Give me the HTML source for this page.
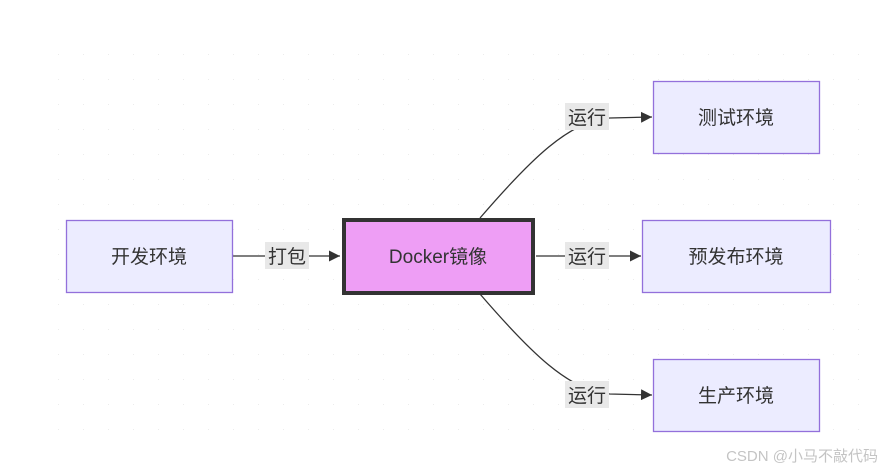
<!DOCTYPE html>
<html><head><meta charset="utf-8"><style>
html,body{margin:0;padding:0;background:#fff;}
svg{display:block;}
text{font-family:"Liberation Sans","Noto Sans CJK SC",sans-serif;}
</style></head><body>
<svg width="884" height="470" viewBox="0 0 884 470" xmlns="http://www.w3.org/2000/svg">
<defs>
<pattern id="dots" x="8" y="4" width="25" height="25" patternUnits="userSpaceOnUse">
<circle cx="0" cy="0" r="1" fill="#e6e6e6"/>
</pattern>
<marker id="ar" viewBox="0 0 10 10" refX="10" refY="5" markerWidth="11" markerHeight="11" markerUnits="userSpaceOnUse" orient="auto">
<path d="M0,0 L10,5 L0,10 z" fill="#333"/>
</marker>
</defs>
<rect x="40" y="50" width="830" height="395" fill="url(#dots)"/>
<!-- edges -->
<path d="M232,256 L340,256" stroke="#333" stroke-width="1.3" fill="none" marker-end="url(#ar)"/>
<path d="M536,256 L641,256" stroke="#333" stroke-width="1.3" fill="none" marker-end="url(#ar)"/>
<path d="M480,218 C530,160 570,120 610,118 L652,117" stroke="#333" stroke-width="1.3" fill="none" marker-end="url(#ar)"/>
<path d="M480,294 C530,352 570,392 610,394 L652,395" stroke="#333" stroke-width="1.3" fill="none" marker-end="url(#ar)"/>
<!-- labels -->
<rect x="265" y="242" width="44" height="27" fill="#e8e8e8"/>
<text x="287" y="263" font-size="19" text-anchor="middle" fill="#333">打包</text>
<rect x="565" y="103" width="44" height="27" fill="#e8e8e8"/>
<text x="587" y="124" font-size="19" text-anchor="middle" fill="#333">运行</text>
<rect x="565" y="242" width="44" height="27" fill="#e8e8e8"/>
<text x="587" y="263" font-size="19" text-anchor="middle" fill="#333">运行</text>
<rect x="565" y="381" width="44" height="27" fill="#e8e8e8"/>
<text x="587" y="402" font-size="19" text-anchor="middle" fill="#333">运行</text>
<!-- nodes -->
<rect x="66.5" y="220.5" width="166" height="72" fill="#ececff" stroke="#9370db" stroke-width="1.3"/>
<text x="149" y="263" font-size="19" text-anchor="middle" fill="#333">开发环境</text>
<rect x="344" y="220" width="189" height="73" fill="#ee9ef5" stroke="#333" stroke-width="4"/>
<text x="438" y="263" font-size="19" text-anchor="middle" fill="#333">Docker镜像</text>
<rect x="653.5" y="81.5" width="166" height="72" fill="#ececff" stroke="#9370db" stroke-width="1.3"/>
<text x="736" y="124" font-size="19" text-anchor="middle" fill="#333">测试环境</text>
<rect x="642.5" y="220.5" width="188" height="72" fill="#ececff" stroke="#9370db" stroke-width="1.3"/>
<text x="736" y="263" font-size="19" text-anchor="middle" fill="#333">预发布环境</text>
<rect x="653.5" y="359.5" width="166" height="72" fill="#ececff" stroke="#9370db" stroke-width="1.3"/>
<text x="736" y="402" font-size="19" text-anchor="middle" fill="#333">生产环境</text>
<text x="878" y="461" font-size="15" text-anchor="end" fill="#c4c4c4">CSDN @小马不敲代码</text>
</svg>
</body></html>
